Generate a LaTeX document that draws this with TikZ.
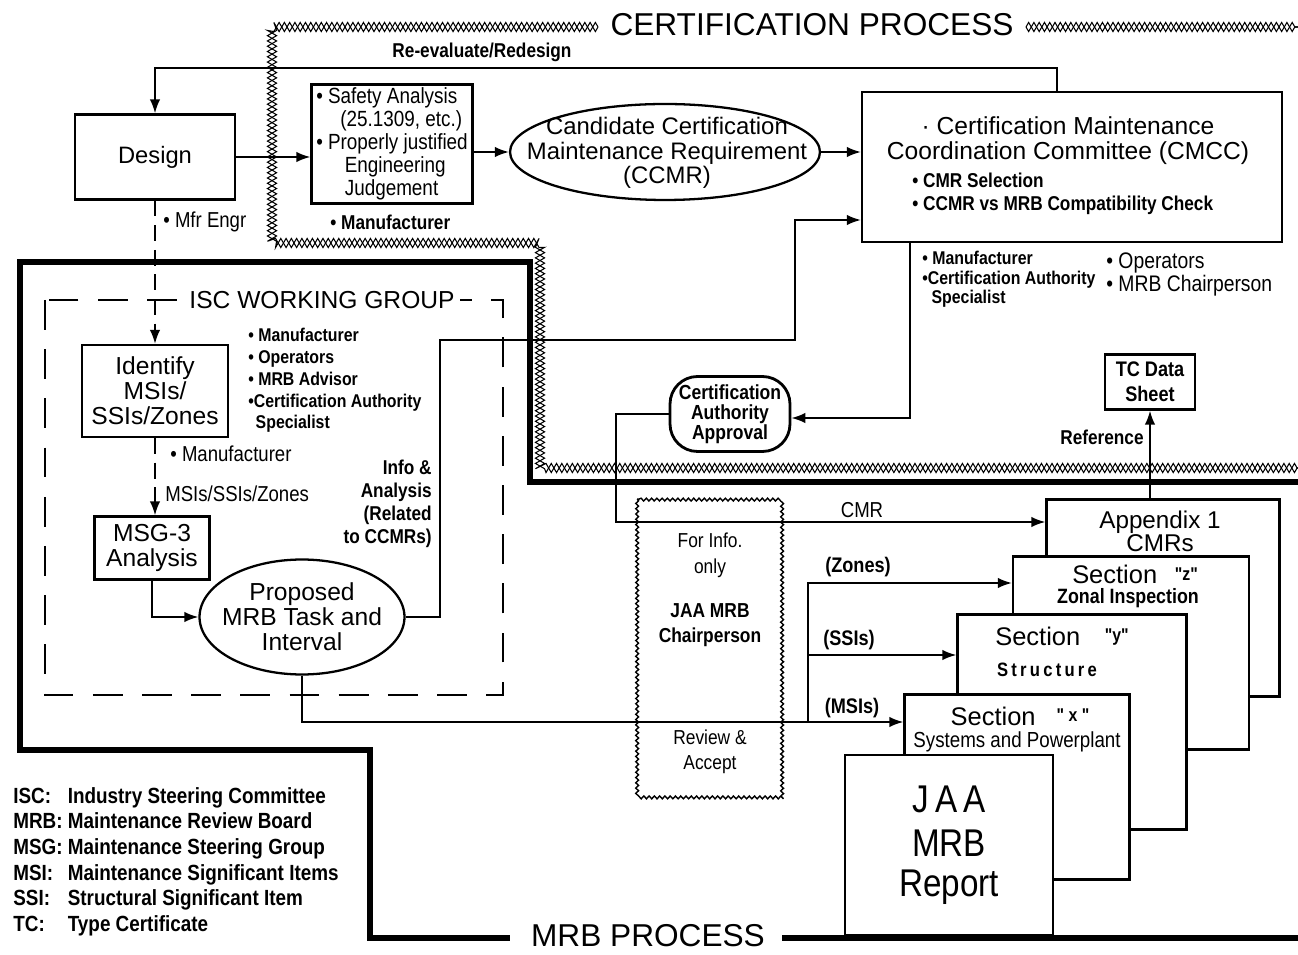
\documentclass[tikz,border=0pt]{standalone}
\usepackage{fontspec}
\setmainfont{Liberation Sans}
\newfontfamily\narrowfont[FakeStretch=0.86]{Liberation Sans}
\newfontfamily\narrowbold[FakeStretch=0.86]{Liberation Sans Bold}
\usetikzlibrary{arrows.meta,shapes.geometric,decorations.pathmorphing,positioning}

\begin{document}
\begin{tikzpicture}
  [
    x=0.02cm, y=-0.02cm,
    box/.style={draw, line width=1.3pt, fill=white, inner sep=2pt, align=center},
    arr/.style={line width=1.1pt, -{Latex[length=8pt,width=6pt]}},
    big/.style={font=\fontsize{14}{14.2}\selectfont, align=center, inner sep=0},
    lbl/.style={font=\narrowbold\fontsize{11.4}{13}\selectfont, align=left, inner sep=0},
    note/.style={font=\narrowfont\fontsize{12.3}{14}\selectfont, align=left, inner sep=0},
    title/.style={font=\fontsize{18}{20}\selectfont, inner sep=0},
    certline/.style={line width=0.6pt, decorate, decoration={zigzag, amplitude=2.6pt, segment length=6pt}},
    mrbline/.style={line width=3.5pt, line join=miter},
    iscline/.style={line width=1.4pt, dash pattern=on 17pt off 11pt},
    wavy/.style={line width=0.8pt, decorate, decoration={snake, amplitude=0.8pt, segment length=3pt}},
  ]
  \useasboundingbox (0,0) rectangle (1298,955);
  \fill[white] (0,0) rectangle (1298,955);

  % process boundaries
  \foreach \side in {false,true}{
    \draw[certline, decoration={mirror=\side}] (598,27) -- (272,27) -- (272,243) -- (540,243) -- (540,468) -- (1298,468);
    \draw[certline, decoration={mirror=\side}] (1026,27) -- (1298,27);
  }
  \node[title] (certtitle) at (812,25) {CERTIFICATION PROCESS};
  \draw[mrbline] (1298,482) -- (530,482) -- (530,262) -- (20,262) -- (20,750) -- (370,750) -- (370,938) -- (510,938);
  \draw[mrbline] (782,938) -- (1298,938);
  \node[title] (mrbtitle) at (648,936) {MRB PROCESS};

  % certification side
  \node[box, minimum width=3.2cm, minimum height=1.7cm, font=\fontsize{13.5}{16}\selectfont] (design) at (155,157) {Design};
  \node[box, minimum width=3.22cm, minimum height=2.34cm, align=left,
        font=\narrowfont\fontsize{12.5}{13}\selectfont] (safety) at (392,144)
    {• Safety Analysis\\\hspace{1.1em}(25.1309, etc.)\\• Properly justified\\\hspace{1.3em}Engineering\\\hspace{1.3em}Judgement};
  \node[lbl, anchor=west] (safetyby) at (330,222) {• Manufacturer};
  \node[draw, ellipse, line width=1.3pt, minimum width=6.2cm, minimum height=1.92cm] (ccmr) at (665,152) {};
  \node[big, font=\fontsize{13.6}{14}\selectfont] (ccmrtext) at (667,153) {Candidate Certification\\Maintenance Requirement\\(CCMR)};
  \node[box, minimum width=8.4cm, minimum height=3cm] (cmcc) at (1072,167) {};
  \node[big] (cmcctitle) at (1068,141) {· Certification Maintenance\\Coordination Committee (CMCC)};
  \node[lbl, anchor=west] (cmcctasks) at (912,194) {• CMR Selection\\• CCMR vs MRB Compatibility Check};
  \node[lbl, anchor=north west, font=\narrowbold\fontsize{10.5}{11}\selectfont] (cmccmembers) at (922,251)
    {• Manufacturer\\•Certification Authority\\\hspace{0.5em}Specialist};
  \node[note, anchor=north west, font=\narrowfont\fontsize{12.8}{13.6}\selectfont] (cmccothers) at (1106,252)
    {• Operators\\• MRB Chairperson};
  \node[lbl] (redolabel) at (482,52) {Re-evaluate/Redesign};
  \node[note, anchor=west] (mfrengr) at (163,222) {• Mfr Engr};

  % ISC working group
  \draw[iscline] (45,300) rectangle (503,695);
  \node[fill=white, inner xsep=3pt, inner ysep=0, font=\fontsize{14}{14}\selectfont] (isctitle) at (322,300) {ISC WORKING GROUP};
  \node[box, minimum width=2.92cm, minimum height=1.84cm, font=\fontsize{14}{14.2}\selectfont] (identify) at (155,391) {Identify\\MSIs/\\SSIs/Zones};
  \node[lbl, anchor=north west, font=\narrowbold\fontsize{10.5}{12.4}\selectfont] (iscmembers) at (248,328)
    {• Manufacturer\\• Operators\\• MRB Advisor\\•Certification Authority\\\hspace{0.4em}Specialist};
  \node[note, anchor=west] (identby) at (170,454) {• Manufacturer};
  \node[note, anchor=west] (identout) at (165,494) {MSIs/SSIs/Zones};
  \node[box, minimum width=2.3cm, minimum height=1.26cm, font=\fontsize{14}{14.2}\selectfont] (msg) at (152,548) {MSG-3\\Analysis};
  \node[draw, ellipse, line width=1.3pt, fill=white, minimum width=4.1cm, minimum height=2.3cm] (prop) at (302,617) {};
  \node[big] (proptext) at (prop.center) {Proposed\\MRB Task and\\Interval};
  \node[lbl, align=right, anchor=east] (infotext) at (432,504) {Info \&\\Analysis\\(Related\\to CCMRs)};

  % approval and report
  \node[box, rounded corners=0.55cm, line width=1.6pt, minimum width=2.4cm, minimum height=1.5cm,
        font=\narrowbold\fontsize{11.6}{11.4}\selectfont] (cca) at (730,414) {Certification\\Authority\\Approval};
  \node[box, minimum width=1.8cm, minimum height=1.1cm, font=\narrowbold\fontsize{12}{14}\selectfont] (tc) at (1150,382) {TC Data\\Sheet};
  \node[lbl] (reflabel) at (1102,437) {Reference};
  \node[minimum width=2.9cm, minimum height=5.9cm] (infobox) at (710,647) {};
  \draw[wavy] (infobox.north west) rectangle (infobox.south east);
  \node[note, align=center, font=\narrowfont\fontsize{11.5}{14.6}\selectfont] (forinfo) at (710,555) {For Info.\\only};
  \node[lbl, align=center, font=\narrowbold\fontsize{11.5}{14.2}\selectfont] (chair) at (710,625) {JAA MRB\\Chairperson};
  \node[note, align=center, font=\narrowfont\fontsize{11.5}{14.2}\selectfont] (review) at (710,752) {Review \&\\Accept};

  \node[box, minimum width=4.66cm, minimum height=3.94cm] (appendix) at (1163,598) {};
  \node[big, font=\fontsize{13.8}{13.2}\selectfont] (appendixtext) at (1160,531) {Appendix 1\\CMRs};
  \node[box, minimum width=4.72cm, minimum height=3.86cm] (secz) at (1131,653) {};
  \node[inner sep=0, anchor=base] (secztext) at (1135,584) {{\fontsize{14.5}{15}\selectfont Section}\hspace{1em}\raisebox{2pt}{\narrowbold\fontsize{10.5}{11}\selectfont "z"}};
  \node[inner sep=0, anchor=base, font=\narrowbold\fontsize{11.8}{12}\selectfont] (secznote) at (1128,604) {Zonal Inspection};
  \node[box, minimum width=4.58cm, minimum height=4.3cm] (secy) at (1072,722) {};
  \node[inner sep=0, anchor=base] (secytext) at (1062,645) {{\fontsize{14.5}{15}\selectfont Section}\hspace{1.4em}\raisebox{2pt}{\narrowbold\fontsize{10.5}{11}\selectfont "y"}};
  \node[lbl, font=\narrowbold\fontsize{11}{11}\selectfont] (secynote) at (1047,670) {S\,t\,r\,u\,c\,t\,u\,r\,e};
  \node[box, minimum width=4.5cm, minimum height=3.7cm] (secx) at (1017,787) {};
  \node[inner sep=0, anchor=base] (secxtext) at (1020,725) {{\fontsize{14.5}{15}\selectfont Section}\hspace{1.2em}\raisebox{2pt}{\narrowbold\fontsize{10.5}{11}\selectfont " x "}};
  \node[note, font=\narrowfont\fontsize{12.4}{12.6}\selectfont] (secxnote) at (1017,742) {Systems and Powerplant};
  \node[box, minimum width=4.16cm, minimum height=3.6cm, line width=1.6pt,
        font=\narrowfont\fontsize{22}{22.8}\selectfont] (report) at (949,845) {J\,A\,A\\[2.5pt]MRB\\Report};

  % connectors
  \coordinate (redo) at (1057,68);
  \draw[arr] (cmcc.north -| redo) -- (redo) -| (design.north);
  \draw[arr] (design.east) -- (design.east -| safety.west);
  \draw[arr] (safety.east |- ccmr.west) -- (ccmr.west);
  \draw[arr] (ccmr.east) -- (ccmr.east -| cmcc.west);
  \draw[arr, dash pattern=on 9pt off 5pt] (design.south) -- (identify.north);
  \draw[arr, dash pattern=on 9pt off 5pt] (identify.south) -- (identify.south |- msg.north);
  \draw[arr] (msg.south) |- (prop.west);
  \coordinate (infoA) at (440,340);
  \coordinate (infoB) at (795,220);
  \draw[arr] (prop.east) -| (infoA) -| (infoB) -- (infoB -| cmcc.west);
  \coordinate (cmccout) at (910,418);
  \draw[arr] (cmcc.south -| cmccout) -- (cmccout) -- (cmccout -| cca.east);
  \coordinate (cmrA) at (616,522);
  \draw[arr] (cca.west) -| (cmrA) -- (cmrA -| appendix.west);
  \node[note] (cmrlabel) at (862,510) {CMR};
  \draw[arr] (tc.south |- appendix.north) -- (tc.south);
  \coordinate (mrbA) at (302,722);
  \coordinate (split) at (808,722);
  \coordinate (zones) at (808,583);
  \coordinate (ssis) at (808,655);
  \draw[arr] (prop.south) -- (mrbA) -- (mrbA -| secx.west);
  \draw[arr] (split) -- (zones) -- (zones -| secz.west);
  \draw[arr] (ssis) -- (ssis -| secy.west);
  \node[lbl, font=\narrowbold\fontsize{12}{12}\selectfont] (zoneslabel) at (858,567) {(Zones)};
  \node[lbl, font=\narrowbold\fontsize{12}{12}\selectfont] (ssislabel) at (849,640) {(SSIs)};
  \node[lbl, font=\narrowbold\fontsize{12}{12}\selectfont] (msislabel) at (852,708) {(MSIs)};

  % legend
  \node[lbl, anchor=north west, font=\narrowbold\fontsize{12.5}{14.6}\selectfont] (legend) at (13,787)
    {\makebox[31pt][l]{ISC:}Industry Steering Committee\\
     \makebox[31pt][l]{MRB:}Maintenance Review Board\\
     \makebox[31pt][l]{MSG:}Maintenance Steering Group\\
     \makebox[31pt][l]{MSI:}Maintenance Significant Items\\
     \makebox[31pt][l]{SSI:}Structural Significant Item\\
     \makebox[31pt][l]{TC:}Type Certificate};
\end{tikzpicture}
\end{document}
